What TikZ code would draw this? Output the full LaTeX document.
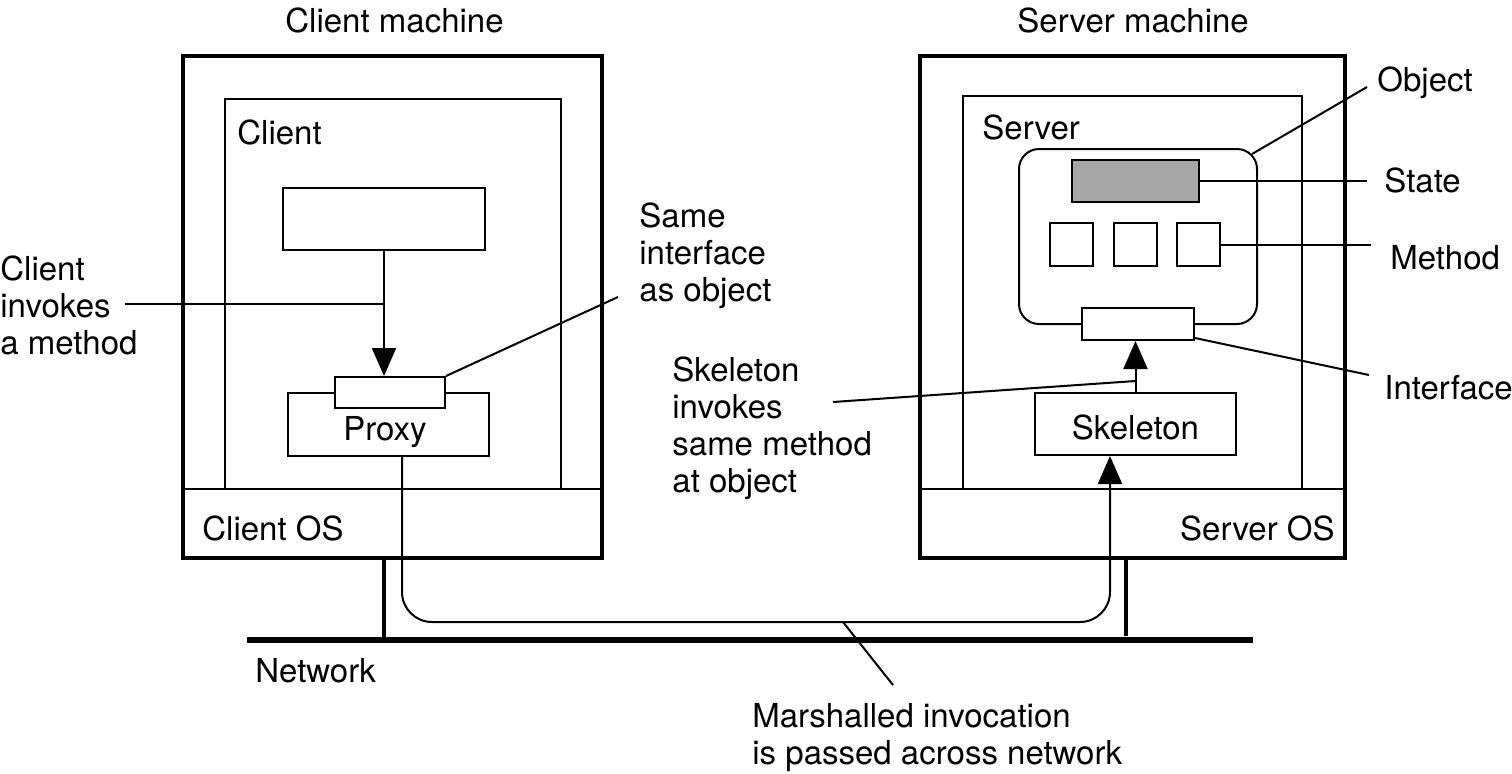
\documentclass[tikz,border=0pt]{standalone}
\usepackage{fontspec}
\setmainfont{TeX Gyre Heros}
\usetikzlibrary{arrows.meta,calc}
\begin{document}
\begin{tikzpicture}[x=0.5pt,y=-0.5pt,
  every node/.style={font=\fontsize{16.5}{18.5}\selectfont},
  box/.style={draw, line width=1pt, inner sep=0pt, fill=white},
  machine/.style={draw, line width=2.2pt, inner sep=0pt},
  thin/.style={line width=1pt},
  conn/.style={line width=1pt, -{Triangle[length=14pt,width=12pt]}},
  lbl/.style={inner sep=0pt, align=left},
  boxtext/.style={text height=15.5pt, text depth=0pt}
]
\useasboundingbox (0,0) rectangle (1512,773);

% ---- client machine ----
\node[machine, minimum width=209.5pt, minimum height=251pt] (cm) at (392.5,307) {};
\node[box, fill=none, minimum width=168pt, minimum height=195pt] (ci) at (393,294) {};
\coordinate (cos) at (0,489);
\draw[thin] (cm.west |- cos) -- (cm.east |- cos);
\node[box, minimum width=101pt, minimum height=31pt] (ctop) at (384,219) {};
\node[box, boxtext, minimum width=100.5pt, minimum height=31.5pt] (proxy) at (388.5,424.5) {\hspace*{-3.5pt}Proxy};
\node[box, minimum width=55pt, minimum height=15.5pt] (cif) at (390,392.5) {};
\draw[conn] (ctop.south) -- (ctop.south |- cif.north);

% ---- server machine ----
\node[machine, minimum width=212.5pt, minimum height=251pt] (sm) at (1132.5,307) {};
\node[box, fill=none, minimum width=169.5pt, minimum height=196.5pt] (si) at (1132.5,292.5) {};
\draw[thin] (sm.west |- cos) -- (sm.east |- cos);
\node[box, rounded corners=10pt, minimum width=119pt, minimum height=87.5pt] (obj) at (1138,236.5) {};
\node[box, fill=black!35, minimum width=63.5pt, minimum height=21pt] (state) at (1135.5,181) {};
\node[box, minimum width=21.5pt, minimum height=21.5pt] (m1) at (1071.5,244.5) {};
\node[box, minimum width=21.5pt, minimum height=21.5pt] (m2) at (1135.5,244.5) {};
\node[box, minimum width=21.5pt, minimum height=21.5pt] (m3) at (1198.5,244.5) {};
\node[box, minimum width=56pt, minimum height=16pt] (sif) at (1138,324) {};
\node[box, boxtext, minimum width=100.5pt, minimum height=31pt] (skel) at (1135.5,424) {Skeleton};
\draw[conn] (skel.north) -- (skel.north |- sif.south);

% ---- network ----
\coordinate (netL) at (247,640);
\coordinate (netR) at (1253,640);
\draw[line width=3pt] (netL) -- (netR);
\draw[line width=2.2pt] (cm.south -| 384,0) -- (netL -| 384,0);
\draw[line width=2.2pt] (sm.south -| 1126,0) -- (1126,636);

% marshalled path
\path (proxy.south) ++(13.5,0) coordinate (pout);
\path (skel.south) ++(-25.5,0) coordinate (sin);
\coordinate (bus) at (0,622);
\draw[conn, rounded corners=15pt] (pout) -- (pout |- bus) -- (sin |- bus) -- (sin);

% ---- texts ----
\node[lbl, anchor=base west] (tcm) at (285,32) {Client machine};
\node[lbl, anchor=base west] (tsm) at (1017,32) {Server machine};
\node[lbl, anchor=base west] (tc) at (237,144) {Client};
\node[lbl, anchor=base west] (tcos) at (202,540) {Client OS};
\node[lbl, anchor=base west] (ts) at (982,139) {Server};
\node[lbl, anchor=base east] (tsos) at (1335,540) {Server OS};
\node[lbl, anchor=base west] (tnet) at (255,682) {Network};
\node[lbl, anchor=base west] (tobj) at (1377,91) {Object};
\node[lbl, anchor=base west] (tstate) at (1384,192) {State};
\node[lbl, anchor=base west] (tmeth) at (1390,269) {Method};
\node[lbl, anchor=base west] (tif) at (1384,399) {Interface};
\node[lbl, anchor=west] (tinv) at (0,305) {Client\\invokes\\a method};
\node[lbl, anchor=west] (tsame) at (639,256) {Same\\interface\\as object};
\node[lbl, anchor=west] (tskinv) at (672,428) {Skeleton\\invokes\\same method\\at object};
\node[lbl, anchor=west] (tmar) at (752,738) {Marshalled invocation\\is passed across network};

% ---- leaders ----
\coordinate (invS) at (125,304);
\draw[thin] (invS) -- (invS -| ctop.south);
\coordinate (sameE) at (618,297);
\draw[thin] (cif.north east) -- (sameE);
\coordinate (skS) at (833,402);
\coordinate (skE) at (0,381);
\draw[thin] (skS) -- (skel.north |- skE);
\coordinate (objE) at (1367,87);
\draw[thin] ($(obj.north east)+(-6,6)$) -- (objE);
\coordinate (stateE) at (1367,181);
\draw[thin] (state.east) -- (stateE);
\coordinate (methE) at (1371,244.5);
\draw[thin] (m3.east) -- (methE);
\coordinate (ifE) at (1369,375);
\draw[thin] ($(sif.south east)+(0,-3)$) -- (ifE);
\coordinate (marS) at (843,622);
\coordinate (marE) at (893,685);
\draw[thin] (marS) -- (marE);
\end{tikzpicture}
\end{document}
